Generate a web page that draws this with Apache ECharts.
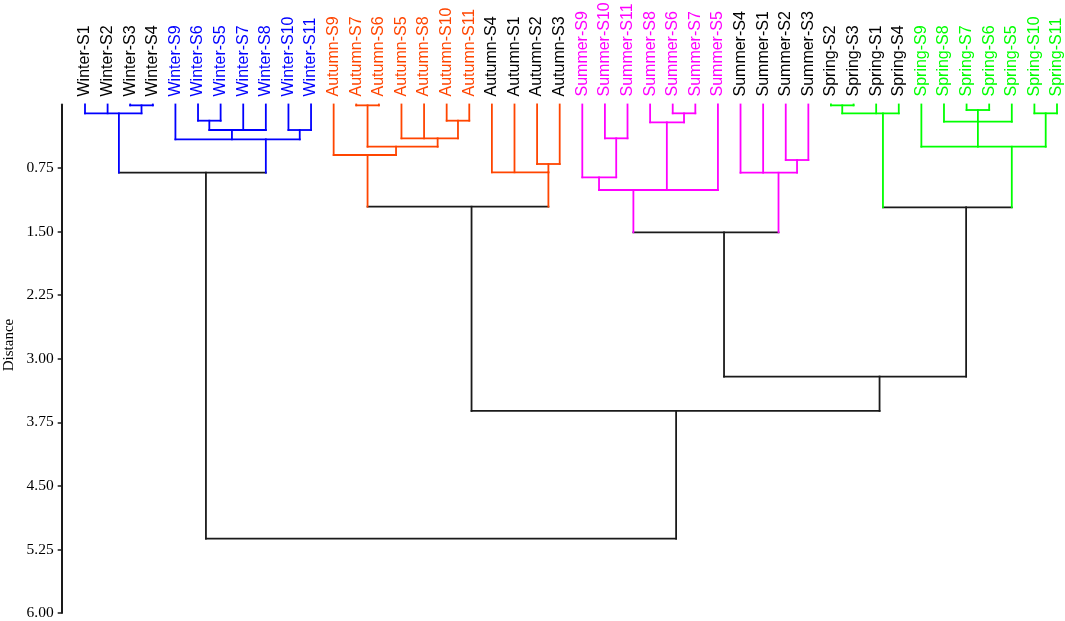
<!DOCTYPE html>
<html>
<head>
<meta charset="utf-8">
<script src="https://cdn.jsdelivr.net/npm/echarts@6/dist/echarts.min.js"></script>
<style>html,body{margin:0;padding:0;background:#fff}#c{width:1065px;height:621px}</style>
</head>
<body>
<div id="c"></div>
<script>
// Leaves in dendrogram order
const leafNames = [
  'Winter-S1','Winter-S2','Winter-S3','Winter-S4','Winter-S9','Winter-S6','Winter-S5','Winter-S7','Winter-S8','Winter-S10','Winter-S11',
  'Autumn-S9','Autumn-S7','Autumn-S6','Autumn-S5','Autumn-S8','Autumn-S10','Autumn-S11','Autumn-S4','Autumn-S1','Autumn-S2','Autumn-S3',
  'Summer-S9','Summer-S10','Summer-S11','Summer-S8','Summer-S6','Summer-S7','Summer-S5','Summer-S4','Summer-S1','Summer-S2','Summer-S3',
  'Spring-S2','Spring-S3','Spring-S1','Spring-S4','Spring-S9','Spring-S8','Spring-S7','Spring-S6','Spring-S5','Spring-S10','Spring-S11'
];
// label colour group per leaf (K = black)
const leafLabelGroups = [
  'K','K','K','K','W','W','W','W','W','W','W',
  'A','A','A','A','A','A','A','K','K','K','K',
  'S','S','S','S','S','S','S','K','K','K','K',
  'K','K','K','K','P','P','P','P','P','P','P'
];
// branch colour group per leaf
const leafBranchGroups = [
  'W','W','W','W','W','W','W','W','W','W','W',
  'A','A','A','A','A','A','A','A','A','A','A',
  'S','S','S','S','S','S','S','S','S','S','S',
  'P','P','P','P','P','P','P','P','P','P','P'
];
const groupColors = {K:'#1a1a1a', W:'#0000ff', A:'#ff4500', S:'#ff00ff', P:'#00ff00'};
const labelColors = {K:'#000000', W:'#0000ff', A:'#ff4500', S:'#ff00ff', P:'#00ff00'};

// Internal nodes (id = 44 + index): children, merge distance, stem position (leaf-index units), colour group
const nodeChildren = [
  [2,3],[0,1,44],[5,6],[46,7,8],[9,10],[4,47,48],[45,49],
  [12,13],[16,17],[14,15,52],[51,53],[11,54],[20,21],[18,19,56],[55,57],
  [23,24],[22,59],[26,27],[25,61],[60,62,28],[31,32],[29,30,64],[63,65],
  [33,34],[67,35,36],[39,40],[38,69,41],[42,43],[37,70,71],[68,72],
  [66,73],[58,74],[50,75]
];
const nodeHeights = [
  0.01,0.104,0.191,0.301,0.301,0.411,0.805,
  0.01,0.191,0.399,0.498,0.596,0.702,0.800,1.206,
  0.399,0.859,0.104,0.21,1.009,0.655,0.805,1.508,
  0.01,0.104,0.065,0.203,0.104,0.498,1.213,
  3.21,3.616,5.123
];
const nodeStems = [
  2.5,1.5,5.5,6.5,9.5,8.0,5.35,
  12.5,16.5,15.6,13.76,12.5,20.5,20.5,17.1,
  23.5,22.74,26.5,25.74,24.26,31.5,30.68,28.27,
  33.5,35.3,39.5,39.5,42.5,41.0,38.98,
  35.15,26.15,26
];
const nodeGroups = [
  'W','W','W','W','W','W','K',
  'A','A','A','A','A','A','A','K',
  'S','S','S','S','S','S','S','K',
  'P','P','P','P','P','P','K',
  'K','K','K'
];
const yTicks = [0.75,1.5,2.25,3,3.75,4.5,5.25,6];

const N = leafNames.length;
function pos(id){ return id < N ? id : nodeStems[id-N]; }
function hgt(id){ return id < N ? 0 : nodeHeights[id-N]; }
function grp(id){ return id < N ? leafBranchGroups[id] : nodeGroups[id-N]; }

const segs = [];
nodeChildren.forEach((ch, k) => {
  const h = nodeHeights[k];
  const xs = ch.map(pos);
  segs.push([Math.min(...xs), h, Math.max(...xs), h, groupColors[nodeGroups[k]]]);
  ch.forEach(c => segs.push([pos(c), hgt(c), pos(c), h, groupColors[grp(c)]]));
});

const chart = echarts.init(document.getElementById('c'), null, {renderer:'canvas'});
chart.setOption({
  animation:false,
  backgroundColor:'#fff',
  grid:{left:85, right:8, top:104.5, bottom:8, containLabel:false, outerBoundsMode:'none'},
  xAxis:[{
    type:'category', position:'top', boundaryGap:false,
    data: leafNames.map((n,i)=>({value:n, textStyle:{color:labelColors[leafLabelGroups[i]]}})),
    axisLine:{show:false}, axisTick:{show:false}, splitLine:{show:false},
    axisLabel:{rotate:90, interval:0, margin:8, fontSize:16, fontFamily:'Liberation Sans, Arial, sans-serif'}
  },{
    type:'value', min:0, max:N-1, show:false
  }],
  yAxis:{
    type:'value', inverse:true, min:0, max:6, interval:0.75, offset:23.3,
    axisLine:{show:true, onZero:false, lineStyle:{color:'#1a1a1a', width:2}},
    axisTick:{show:true, length:4, customValues:yTicks, lineStyle:{color:'#1a1a1a', width:1.5}},
    axisLabel:{customValues:yTicks, formatter:v=>v.toFixed(2), margin:8, fontSize:15.5, color:'#000', fontFamily:'Liberation Serif, Times New Roman, serif'},
    splitLine:{show:false}
  },
  graphic:[{
    type:'text', x:9, y:345, rotation:Math.PI/2,
    style:{text:'Distance', font:'15px "Liberation Serif", serif', fill:'#000', textAlign:'center', textVerticalAlign:'middle'}
  }],
  series:[{
    type:'custom', xAxisIndex:1, yAxisIndex:0, clip:false,
    data: segs,
    renderItem:(params, api) => {
      const p1 = api.coord([api.value(0), api.value(1)]);
      const p2 = api.coord([api.value(2), api.value(3)]);
      return {type:'line', shape:{x1:p1[0], y1:p1[1], x2:p2[0], y2:p2[1]},
        style:{stroke: segs[params.dataIndex][4], lineWidth:1.8, lineCap:'square'}};
    }
  }]
});
</script>
</body>
</html>
